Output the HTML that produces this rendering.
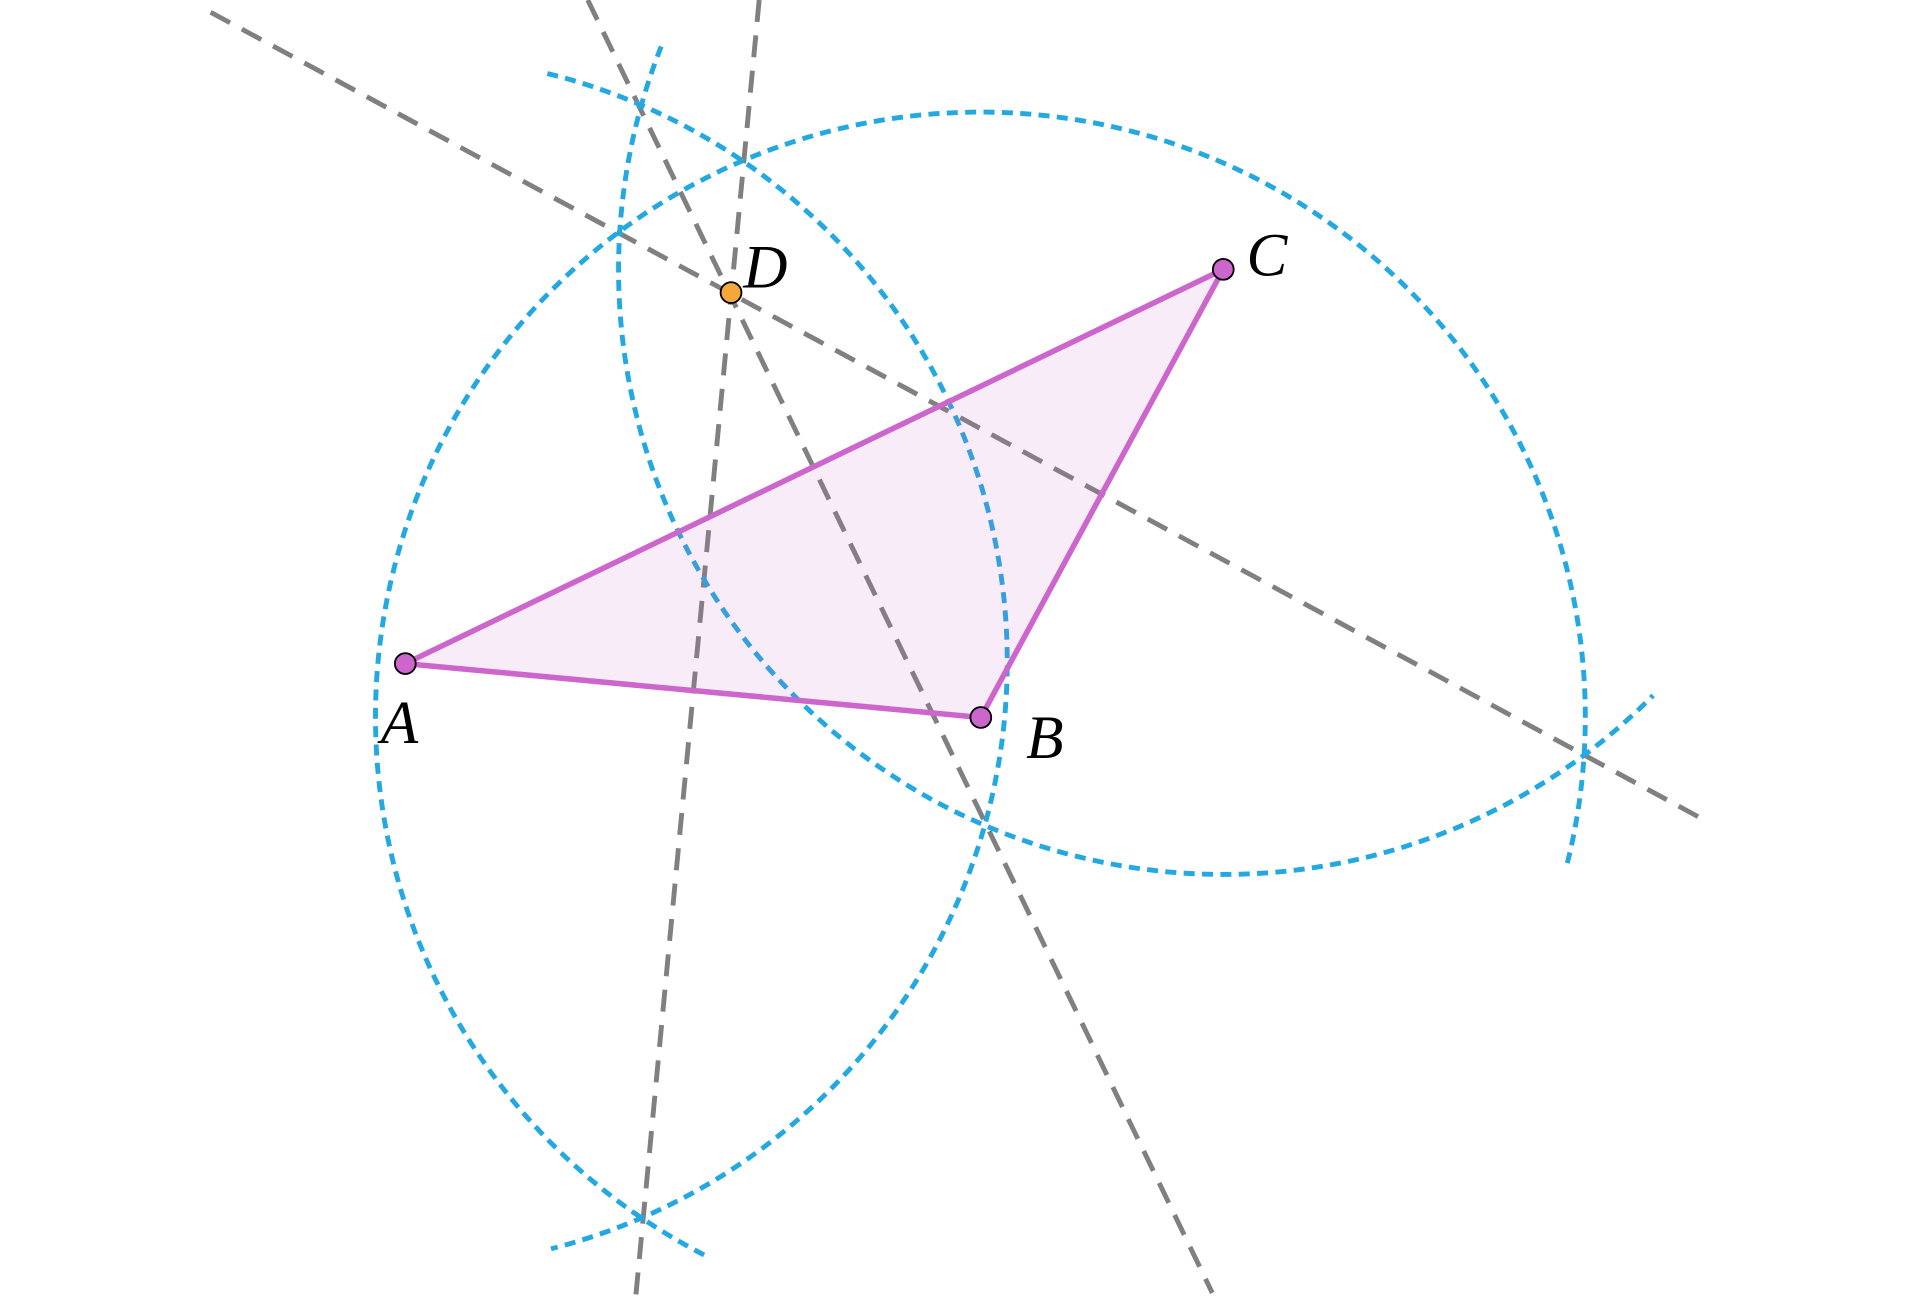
<!DOCTYPE html>
<html><head><style>html,body{margin:0;padding:0;background:#fff;}svg{display:block;}</style></head>
<body>
<svg width="1920" height="1299" viewBox="0 0 1568 1061" preserveAspectRatio="none" xmlns="http://www.w3.org/2000/svg">
<g fill="none" stroke="#808080" stroke-width="4" stroke-dasharray="18 11">
<line x1="172" y1="10" x2="1396" y2="672"/>
<line x1="620" y1="0" x2="519" y2="1061"/>
<line x1="480" y1="0" x2="990" y2="1056"/>
</g>
<g fill="none" stroke="#23a8e1" stroke-width="4" stroke-dasharray="9 6">
<path d="M447,60 A495,495 0 0 1 450,1020"/>
<path d="M575,1025 A494,494 0 1 1 1280,705"/>
<path d="M540,38 A494,494 0 0 0 1350,568"/>
</g>
<polygon points="331,542 801,586 999,220" fill="#cc66cc" fill-opacity="0.12" stroke="#cc66cc" stroke-width="4.5" stroke-linejoin="round"/>
<g stroke="#000" stroke-width="1.5">
<circle cx="331" cy="542" r="8.5" fill="#cc66cc"/>
<circle cx="801" cy="586" r="8.5" fill="#cc66cc"/>
<circle cx="999" cy="220" r="8.5" fill="#cc66cc"/>
<circle cx="597" cy="239" r="8.5" fill="#f5a83a"/>
</g>
<g font-family="Liberation Serif, serif" font-style="italic" font-size="50" fill="#000">
<text x="311" y="607">A</text>
<text x="838" y="619">B</text>
<text x="1018" y="225">C</text>
<text x="607" y="235">D</text>
</g>
</svg>
</body></html>
